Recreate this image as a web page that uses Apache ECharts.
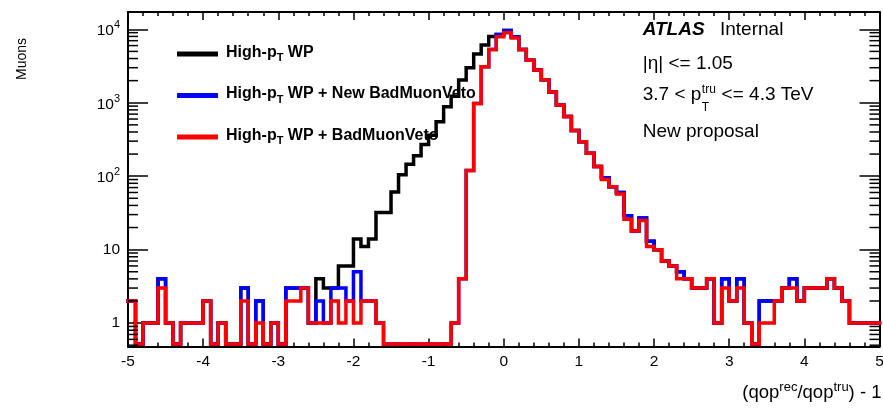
<!DOCTYPE html>
<html>
<head>
<meta charset="utf-8">
<script src="https://cdn.jsdelivr.net/npm/echarts@6/dist/echarts.min.js"></script>
<style>html,body{margin:0;padding:0;background:#fff}#c{width:883px;height:409px}</style>
</head>
<body>
<div id="c"></div>
<script>
// ---------------- data ----------------
const xMin = -5, xMax = 5, binWidth = 0.1;
const xTickValues = [-5, -4, -3, -2, -1, 0, 1, 2, 3, 4, 5];
const yTickValues = [1, 10, 100, 1000, 10000];
const yMin = 0.48, yMax = 17200;
const zeroFloor = 0.52; // where empty bins are drawn on the log axis

const seriesNames = ['High-pT WP', 'High-pT WP + New BadMuonVeto', 'High-pT WP + BadMuonVeto'];
const seriesColors = ['#000000', '#0000ff', '#ff0000'];

// 100 bins of width 0.1 from -5 to 5
const highPtWP = [
  2,0,1,1,4,1,0,1,1,1,
  2,0,1,0,0,3,0,2,0,1,
  0,3,3,3,1,4,3,3,6,6,
  14,11,14,32,32,61,105,145,190,270,
  361,549,879,1230,2035,3000,4600,6100,7950,8500,
  9600,7900,5300,3800,2800,2050,1400,930,650,420,
  295,205,135,95,72,60,29,18,27,13,
  10,7,6,5,4,3,3,4,1,4,
  2,4,1,0,2,2,2,3,4,2,
  3,3,3,4,3,2,1,1,1,1
];
const highPtNewVeto = [
  2,0,1,1,4,1,0,1,1,1,
  2,0,1,0,0,3,0,2,0,1,
  0,3,3,3,1,2,1,3,3,2,
  5,2,2,1,0,0,0,0,0,0,
  0,0,0,1,4,120,980,3100,5300,8500,
  9600,7900,5300,3800,2800,2050,1400,930,650,420,
  295,205,135,95,72,60,29,18,27,13,
  10,7,6,5,4,3,3,4,1,4,
  2,4,1,0,2,2,2,3,4,2,
  3,3,3,4,3,2,1,1,1,1
];
const highPtVeto = [
  2,0,1,1,3,1,0,1,1,1,
  2,0,1,0,0,2,0,1,0,1,
  0,2,2,3,1,1,1,2,1,2,
  1,2,2,1,0,0,0,0,0,0,
  0,0,0,1,4,120,980,3100,5300,7900,
  9000,7600,5300,3800,2800,2050,1400,930,650,420,
  295,205,135,90,72,57,26,18,25,11,
  10,7,6,4,4,3,3,4,1,3,
  2,3,1,0,1,1,2,3,3,2,
  3,3,3,4,3,2,1,1,1,1
];
const seriesValues = [highPtWP, highPtNewVeto, highPtVeto];

// ---------------- helpers ----------------
const FONT = "'Liberation Sans', Arial, Helvetica, sans-serif";

function stepData(vals) {
  const d = vals.map((v, i) => [Math.round((xMin + i * binWidth) * 1000) / 1000, v > 0 ? v : zeroFloor]);
  const last = vals[vals.length - 1];
  d.push([xMax, last > 0 ? last : zeroFloor]);
  return d;
}

// log-axis minor tick values (2..9 x 10^n) inside the axis range
const logMinorTicks = [];
for (let e = -1; e <= 4; e++) {
  for (let m = 2; m <= 9; m++) {
    const v = m * Math.pow(10, e);
    if (v > yMin && v < yMax) logMinorTicks.push(v);
  }
}

const legendLabels = {
  'High-pT WP': '{f|High-p}{s|T}{b| WP}',
  'High-pT WP + New BadMuonVeto': '{f|High-p}{s|T}{b| WP + New BadMuonVeto}',
  'High-pT WP + BadMuonVeto': '{f|High-p}{s|T}{b| WP + BadMuonVeto}'
};

const measureCtx = document.createElement('canvas').getContext('2d');
function textWidth(t, size, weight, style) {
  measureCtx.font = (style || 'normal') + ' ' + (weight || 'normal') + ' ' + size + 'px ' + FONT;
  return measureCtx.measureText(t).width;
}

// ---------------- chart ----------------
const chart = echarts.init(document.getElementById('c'), null, { renderer: 'canvas' });

const axisLineStyle = { color: '#000', width: 2 };
const tickStyle = { color: '#000', width: 1.5 };

const annX = 642.7;
const pLineX = annX + textWidth('3.7 < p', 19) + 0.5;
const restX = pLineX + textWidth('tru', 12) + 0.5;

const legendFontSize = 16;

const option = {
  animation: false,
  backgroundColor: '#ffffff',
  grid: { left: 128, right: 3.5, top: 12, bottom: 62.5, containLabel: false, outerBoundsMode: 'none' },
  xAxis: [
    {
      type: 'value', min: xMin, max: xMax, interval: 1, position: 'bottom',
      axisLine: { show: true, onZero: false, lineStyle: axisLineStyle },
      axisTick: { show: true, inside: true, length: 8, lineStyle: tickStyle },
      minorTick: { show: true, splitNumber: 5, length: 4, lineStyle: tickStyle },
      splitLine: { show: false }, minorSplitLine: { show: false },
      axisLabel: { fontFamily: FONT, fontSize: 15.5, color: '#000', margin: 7 },
      name: '{b|(qop}{sup|rec}{b|/qop}{sup|tru}{b|) - 1}',
      nameLocation: 'end', nameGap: 2, nameMoveOverlap: false,
      nameTextStyle: {
        align: 'right', verticalAlign: 'top', padding: [34, 0, 0, 0],
        fontFamily: FONT, fontSize: 18.5, color: '#000',
        rich: {
          b: { fontFamily: FONT, fontSize: 18.5, color: '#000', verticalAlign: 'bottom' },
          sup: { fontFamily: FONT, fontSize: 13, color: '#000', verticalAlign: 'bottom', padding: [0, 0, 9, 0] }
        }
      }
    },
    {
      type: 'value', min: xMin, max: xMax, interval: 1, position: 'top',
      axisLine: { show: true, onZero: false, lineStyle: axisLineStyle },
      axisTick: { show: true, inside: true, length: 8, lineStyle: tickStyle },
      minorTick: { show: true, splitNumber: 5, length: 4, lineStyle: tickStyle },
      splitLine: { show: false }, minorSplitLine: { show: false },
      axisLabel: { show: false }
    }
  ],
  yAxis: [
    {
      type: 'log', logBase: 10, min: yMin, max: yMax, position: 'left',
      axisLine: { show: true, onZero: false, lineStyle: axisLineStyle },
      axisTick: { show: true, inside: true, length: 20, lineStyle: tickStyle, customValues: yTickValues },
      minorTick: { show: false }, splitLine: { show: false }, minorSplitLine: { show: false },
      axisLabel: {
        customValues: yTickValues, margin: 8, fontFamily: FONT, fontSize: 15.5, color: '#000',
        formatter: function (v) {
          const e = Math.round(Math.log10(v));
          if (e === 0) return '{b|1}';
          if (e === 1) return '{b|10}';
          return '{b|10}{sup|' + e + '}';
        },
        rich: {
          b: { fontFamily: FONT, fontSize: 15.5, color: '#000', verticalAlign: 'bottom' },
          sup: { fontFamily: FONT, fontSize: 11, color: '#000', verticalAlign: 'bottom', padding: [0, 0, 8, 0] }
        }
      },
      name: 'Muons', nameLocation: 'end', nameRotate: 90, nameGap: -26, nameMoveOverlap: false,
      nameTextStyle: {
        fontFamily: FONT, fontSize: 14, color: '#000',
        align: 'right', verticalAlign: 'bottom', padding: [0, 0, 99, 0]
      }
    },
    {
      type: 'log', logBase: 10, min: yMin, max: yMax, position: 'right',
      axisLine: { show: true, onZero: false, lineStyle: axisLineStyle },
      axisTick: { show: true, inside: true, length: 20, lineStyle: tickStyle, customValues: yTickValues },
      minorTick: { show: false }, splitLine: { show: false }, minorSplitLine: { show: false },
      axisLabel: { show: false }
    }
  ],
  legend: {
    show: true, orient: 'vertical', left: 172, top: 39.5, z: 1,
    itemWidth: 41, itemHeight: 5, itemGap: 22.5, icon: 'rect', selectedMode: false,
    data: seriesNames.map((n, i) => ({ name: n, icon: 'rect', itemStyle: { color: seriesColors[i] } })),
    formatter: n => legendLabels[n],
    textStyle: {
      fontFamily: FONT, fontSize: legendFontSize, fontWeight: 'bold', color: '#000',
      rich: {
        f: { fontFamily: FONT, fontSize: legendFontSize, fontWeight: 'bold', color: '#000', verticalAlign: 'bottom', padding: [0, 0, 3, 3] },
        b: { fontFamily: FONT, fontSize: legendFontSize, fontWeight: 'bold', color: '#000', verticalAlign: 'bottom', padding: [0, 0, 3, 0] },
        s: { fontFamily: FONT, fontSize: 11, fontWeight: 'bold', color: '#000', verticalAlign: 'bottom' }
      }
    }
  },
  graphic: [
    { type: 'text', x: annX, y: 29.4, z: 10, style: { text: 'ATLAS', fontFamily: FONT, fontSize: 19, fontWeight: 'bold', fontStyle: 'italic', fill: '#000', align: 'left', verticalAlign: 'middle' } },
    { type: 'text', x: 720, y: 29.4, z: 10, style: { text: 'Internal', fontFamily: FONT, fontSize: 19, fill: '#000', align: 'left', verticalAlign: 'middle' } },
    { type: 'text', x: annX, y: 63.4, z: 10, style: { text: '|η| <= 1.05', fontFamily: FONT, fontSize: 19, fill: '#000', align: 'left', verticalAlign: 'middle' } },
    { type: 'text', x: annX, y: 95.1, z: 10, style: { text: '3.7 < p', fontFamily: FONT, fontSize: 19, fill: '#000', align: 'left', verticalAlign: 'middle' } },
    { type: 'text', x: pLineX, y: 108, z: 10, style: { text: 'T', fontFamily: FONT, fontSize: 12, fill: '#000', align: 'left', verticalAlign: 'middle' } },
    { type: 'text', x: pLineX, y: 89.5, z: 10, style: { text: 'tru', fontFamily: FONT, fontSize: 12, fill: '#000', align: 'left', verticalAlign: 'middle' } },
    { type: 'text', x: restX, y: 95.1, z: 10, style: { text: ' <= 4.3 TeV', fontFamily: FONT, fontSize: 19, fill: '#000', align: 'left', verticalAlign: 'middle' } },
    { type: 'text', x: annX, y: 131.7, z: 10, style: { text: 'New proposal', fontFamily: FONT, fontSize: 19, fill: '#000', align: 'left', verticalAlign: 'middle' } }
  ],
  series: seriesNames.map((n, i) => ({
    name: n, type: 'line', step: 'end', xAxisIndex: 0, yAxisIndex: 0,
    data: stepData(seriesValues[i]),
    symbol: 'none', showSymbol: false, z: 3 + i,
    lineStyle: { color: seriesColors[i], width: 3.5, join: 'miter', cap: 'square' },
    itemStyle: { color: seriesColors[i] },
    emphasis: { disabled: true }
  })).concat([{
    name: 'log minor ticks', type: 'custom', xAxisIndex: 0, yAxisIndex: 0, silent: true, z: 6,
    data: logMinorTicks.map(v => [xMin, v]),
    renderItem: function (params, api) {
      const v = api.value(1);
      const pl = api.coord([xMin, v]);
      const pr = api.coord([xMax, v]);
      return {
        type: 'group', children: [
          { type: 'line', shape: { x1: pl[0], y1: pl[1], x2: pl[0] + 10, y2: pl[1] }, style: { stroke: '#000', lineWidth: 1.5 } },
          { type: 'line', shape: { x1: pr[0], y1: pr[1], x2: pr[0] - 10, y2: pr[1] }, style: { stroke: '#000', lineWidth: 1.5 } }
        ]
      };
    }
  }])
};
chart.setOption(option);
</script>
</body>
</html>
